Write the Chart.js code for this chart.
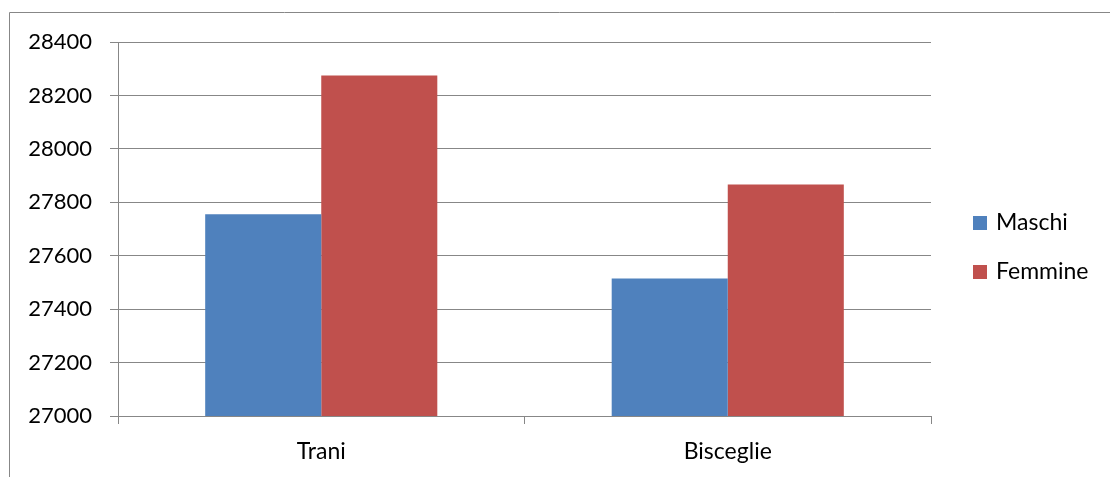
<!DOCTYPE html>
<html>
<head>
<meta charset="utf-8">
<script src="https://cdn.jsdelivr.net/npm/chart.js@4/dist/chart.umd.min.js"></script>
<style>
  html, body { margin: 0; padding: 0; background: #ffffff; }
  #wrap { width: 1110px; height: 477px; position: relative; }
</style>
</head>
<body>
<div id="wrap"><canvas id="c" width="1110" height="477"></canvas></div>
<script>
// Popolazione residente per sesso
const categories = ['Trani', 'Bisceglie'];
const maschi = [27755, 27515];
const femmine = [28275, 27867];
const seriesNames = ['Maschi', 'Femmine'];
const yMin = 27000, yMax = 28400, yStep = 200;

const FONT = 'Lato, "Open Sans", sans-serif';
const AXIS_GREY = '#878787';

// outer frame (top and left edges)
const framePlugin = {
  id: 'frame',
  beforeDraw(chart) {
    const ctx = chart.ctx;
    ctx.save();
    ctx.strokeStyle = AXIS_GREY;
    ctx.lineWidth = 1;
    ctx.beginPath();
    ctx.moveTo(9.5, chart.height);
    ctx.lineTo(9.5, 12.5);
    ctx.lineTo(chart.width, 12.5);
    ctx.stroke();
    ctx.restore();
  }
};

// legend on the right, drawn from the datasets
const sideLegend = {
  id: 'sideLegend',
  afterDraw(chart) {
    const ctx = chart.ctx;
    const x = chart.chartArea.right + 42;
    const gap = 49;
    const n = chart.data.datasets.length;
    const mid = 247.5;
    ctx.save();
    ctx.font = '23px ' + FONT;
    ctx.textBaseline = 'middle';
    ctx.textAlign = 'left';
    chart.data.datasets.forEach((ds, i) => {
      const cy = mid + (i - (n - 1) / 2) * gap;
      ctx.fillStyle = ds.backgroundColor;
      ctx.fillRect(x, cy - 7, 14, 14);
      ctx.fillStyle = '#000000';
      ctx.fillText(ds.label, x + 23, cy);
    });
    ctx.restore();
  }
};

new Chart(document.getElementById('c'), {
  type: 'bar',
  data: {
    labels: categories,
    datasets: [
      { label: seriesNames[0], data: maschi, backgroundColor: '#4F81BD', borderWidth: 0 },
      { label: seriesNames[1], data: femmine, backgroundColor: '#C0504D', borderWidth: 0 }
    ]
  },
  options: {
    responsive: false,
    animation: false,
    devicePixelRatio: 1,
    layout: { padding: { left: 0, top: 42, right: 179, bottom: 0 } },
    datasets: { bar: { categoryPercentage: 0.571, barPercentage: 1.0 } },
    plugins: {
      legend: { display: false },
      tooltip: { enabled: false }
    },
    scales: {
      x: {
        offset: true,
        grid: { display: true, drawOnChartArea: false, drawTicks: true, tickLength: 8, color: AXIS_GREY, offset: true },
        border: { display: true, color: AXIS_GREY, width: 1 },
        ticks: { color: '#000000', font: { family: FONT, size: 23 }, padding: 14, maxRotation: 0 },
        afterFit(s) { s.height = 61; }
      },
      y: {
        min: yMin,
        max: yMax,
        grid: { display: true, drawTicks: true, tickLength: 8, color: AXIS_GREY },
        border: { display: true, color: AXIS_GREY, width: 1 },
        ticks: { stepSize: yStep, color: '#000000', font: { family: FONT, size: 22 }, padding: 18,
                 callback: v => String(v) },
        afterFit(s) { s.width = 118; }
      }
    }
  },
  plugins: [framePlugin, sideLegend]
});
</script>
</body>
</html>
